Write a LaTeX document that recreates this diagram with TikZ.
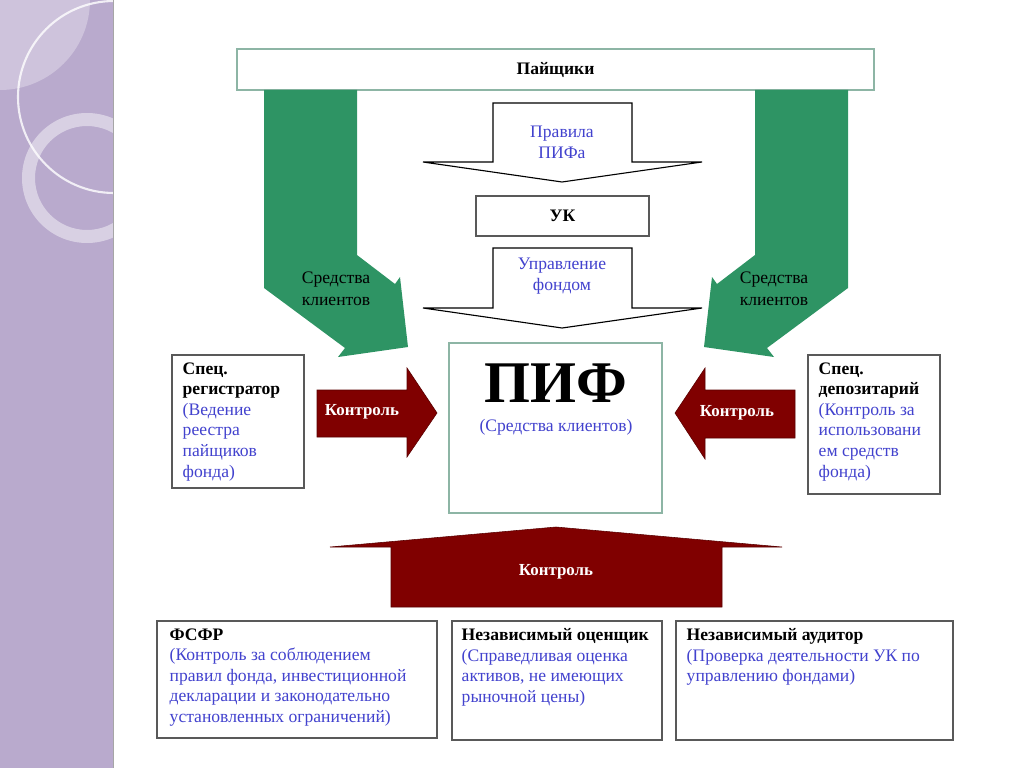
\documentclass[tikz,border=0pt]{standalone}
\usepackage{fontspec}
\setmainfont{Liberation Serif}
\usetikzlibrary{fit}
\definecolor{pifgreen}{RGB}{46,148,100}
\definecolor{pifred}{RGB}{128,0,0}
\definecolor{pifblue}{RGB}{66,66,206}
\definecolor{lineg}{RGB}{141,181,165}
\definecolor{panel}{RGB}{185,170,205}
\newcommand{\boxhead}[1]{\textcolor{black}{\bfseries #1}}

\begin{document}
\begin{tikzpicture}[x=0.025cm, y=-0.025cm,
  box/.style={draw=black!65, line width=0.8pt, fill=white, inner sep=0pt},
  softbox/.style={draw=lineg, line width=0.8pt, fill=white, inner sep=0pt},
  txt/.style={font=\fontsize{12.5}{14.6}\selectfont, align=left, inner sep=0pt, anchor=north west, text=pifblue},
  head/.style={font=\fontsize{12.5}{14.6}\selectfont\bfseries, inner sep=0pt},
  arr/.style={draw=black, line width=0.8pt, fill=white},
  ctrl/.style={fill=pifred, draw=pifred!70!black, line width=0.4pt},
  ctrltxt/.style={text=white, font=\fontsize{12}{14}\selectfont\bfseries},
  money/.style={fill=pifgreen},
  moneytxt/.style={font=\fontsize{12.5}{15.5}\selectfont, align=center, inner sep=0pt},
  notetxt/.style={font=\fontsize{12.5}{15}\selectfont, align=center, inner sep=0pt, text=pifblue}]
\useasboundingbox (0,0) rectangle (1024,768);
\begin{scope}
\clip (0,0) rectangle (113,768);
\fill[panel] (0,0) rectangle (113,768);
\fill[white, opacity=0.3] (0,0) circle (90);
\draw[white, line width=1.5pt, opacity=0.8] (114,97) circle (96);
\fill[white, opacity=0.45, even odd rule] (87,178) circle (65) (87,178) circle (52);
\end{scope}
\draw[black!35] (113,0) -- (113,768);

\node[softbox, fit={(237,49) (874,90)}] (pay) {};
\node[head] (paytxt) at (pay.center) {Пайщики};

\fill[money] (264,90) -- (357,90) -- (357,255) -- (395,284) -- (400,277) -- (408,347) -- (338,357) -- (345,348) -- (264,288) -- cycle;
\fill[money] (848,90) -- (755,90) -- (755,255) -- (717,284) -- (712,277) -- (704,347) -- (774,357) -- (767,348) -- (848,288) -- cycle;
\node[moneytxt] (lmoney) at (336,289) {Средства\\клиентов};
\node[moneytxt] (rmoney) at (774,289) {Средства\\клиентов};

\draw[arr] (493,103) -- (632,103) -- (632,162) -- (702,162) -- (562,182) -- (423,162) -- (493,162) -- cycle;
\node[notetxt] (rules) at (562,142) {Правила\\ПИФа};
\node[box, fit={(476,196) (649,236)}] (uk) {};
\node[head] (uktxt) at (uk.center) {УК};
\draw[arr] (493,248) -- (632,248) -- (632,308) -- (702,308) -- (562,328) -- (423,308) -- (493,308) -- cycle;
\node[notetxt] (manage) at (562,276) {Управление\\фондом};

\node[softbox, fit={(449,343) (662,513)}] (pif) {};
\node[font=\fontsize{42}{42}\selectfont\bfseries, inner sep=0pt] (pifname) at (556,383) {ПИФ};
\node[notetxt] (pifnote) at (556,427) {(Средства клиентов)};

\node[box, fit={(172,355) (304,488)}] (reg) {};
\node[txt] (regtxt) at ([shift={(11,8)}]reg.north west)
  {\boxhead{Спец.}\\ \boxhead{регистратор}\\ (Ведение\\ реестра\\ пайщиков\\ фонда)};
\node[box, fit={(808,355) (940,494)}] (dep) {};
\node[txt] (deptxt) at ([shift={(11,8)}]dep.north west)
  {\boxhead{Спец.}\\ \boxhead{депозитарий}\\ (Контроль за\\ использовани\\ ем средств\\ фонда)};

\fill[ctrl] (317,390) -- (407,390) -- (407,368) -- (437,413) -- (407,457) -- (407,437) -- (317,437) -- cycle;
\node[ctrltxt] (lctrl) at (362,412) {Контроль};
\fill[ctrl] (795,390) -- (705,390) -- (705,368) -- (675,413) -- (705,459) -- (705,438) -- (795,438) -- cycle;
\node[ctrltxt] (rctrl) at (737,413) {Контроль};
\fill[ctrl] (391,607) -- (391,547) -- (330,547) -- (556,527) -- (782,547) -- (722,547) -- (722,607) -- cycle;
\node[ctrltxt] (bctrl) at (556,572) {Контроль};

\node[box, fit={(157,621) (437,738)}] (fsfr) {};
\node[txt] (fsfrtxt) at ([shift={(13,8)}]fsfr.north west)
  {\boxhead{ФСФР}\\ (Контроль за соблюдением\\ правил фонда, инвестиционной\\ декларации и законодательно\\ установленных ограничений)};
\node[box, fit={(452,621) (662,740)}] (eval) {};
\node[txt] (evaltxt) at ([shift={(10,8)}]eval.north west)
  {\boxhead{Независимый оценщик}\\ (Справедливая оценка\\ активов, не имеющих\\ рыночной цены)};
\node[box, fit={(676,621) (953,740)}] (audit) {};
\node[txt] (audittxt) at ([shift={(11,8)}]audit.north west)
  {\boxhead{Независимый аудитор}\\ (Проверка деятельности УК по\\ управлению фондами)};
\end{tikzpicture}
\end{document}
